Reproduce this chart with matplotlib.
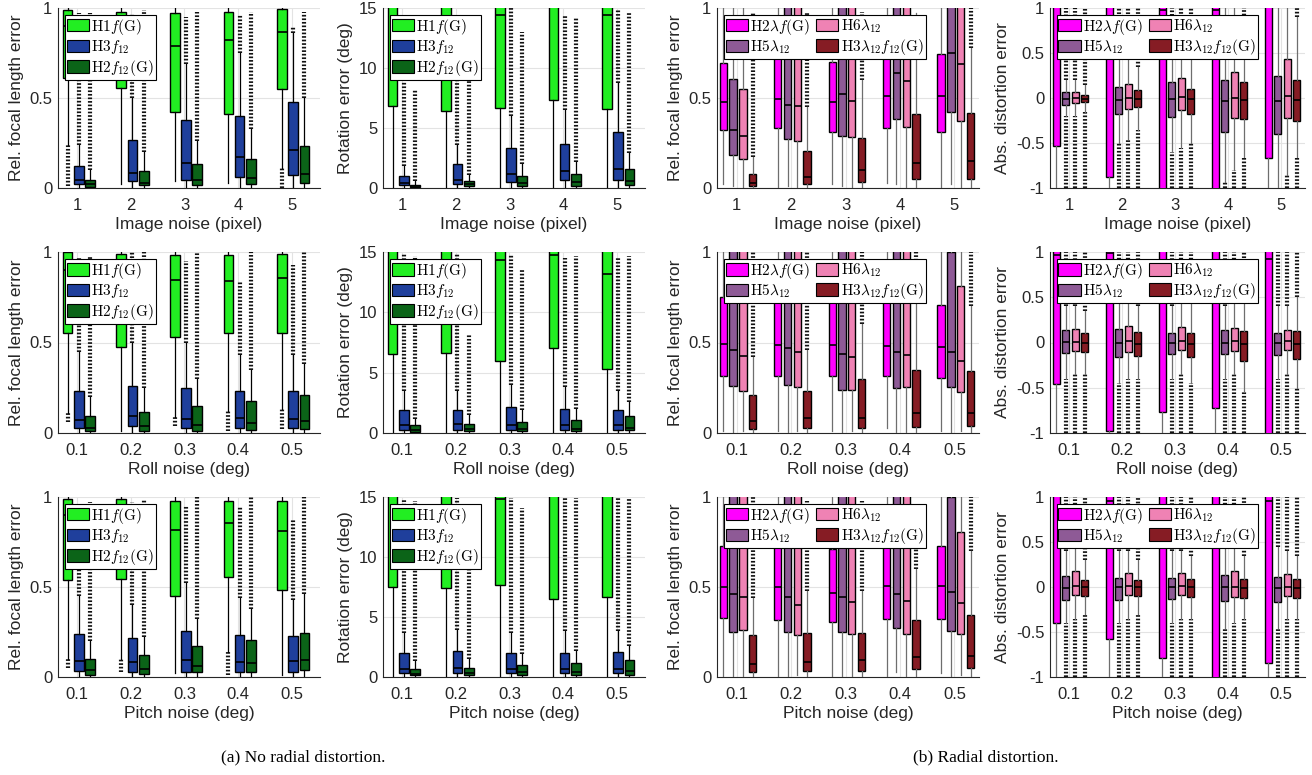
import matplotlib.pyplot as plt
from matplotlib.patches import Patch

plt.rcParams['font.family'] = ['Liberation Sans', 'DejaVu Sans']
plt.rcParams['mathtext.fontset'] = 'cm'

# box stats per group: (whisker low, q1, median, q3, whisker high, outliers bottom, outliers top)
groups = [1, 2, 3, 4, 5]
img_ticks = ['1', '2', '3', '4', '5']
deg_ticks = ['0.1', '0.2', '0.3', '0.4', '0.5']

# ---- image noise ----
img_f_H1 = [(0.24, 0.61, 0.9, 0.99, 1.0, 0.01, None), (0.02, 0.555, 0.85, 0.976, 1.0),
            (0.04, 0.42, 0.79, 0.97, 1.0), (0.03, 0.41, 0.82, 0.976, 1.0),
            (0.11, 0.55, 0.865, 0.995, 1.0, 0.0, None)]
img_f_H3 = [(0, 0.02, 0.046, 0.124, 0.24, None, 0.97), (0, 0.037, 0.083, 0.265, 0.5, None, 0.97),
            (0, 0.046, 0.139, 0.376, 0.69, None, 0.95), (0, 0.061, 0.172, 0.40, 0.75, None, 0.96),
            (0, 0.074, 0.21, 0.476, 0.86, None, 0.9)]
img_f_H2 = [(0, 0.004, 0.022, 0.046, 0.1, None, 0.97), (0, 0.015, 0.03, 0.093, 0.2, None, 0.99),
            (0, 0.015, 0.046, 0.133, 0.26, None, 0.98), (0, 0.02, 0.056, 0.16, 0.33, None, 0.98),
            (0, 0.028, 0.08, 0.235, 0.5, None, 0.98)]
img_rot_H1 = [(0, 6.8, 16, 20, 20), (0, 6.4, 16, 20, 20), (0, 6.67, 14.4, 20, 20),
              (0, 7.36, 16, 20, 20), (0, 6.58, 14.44, 20, 20)]
img_rot_H3 = [(0, 0.28, 0.42, 0.97, 1.8, None, 12), (0, 0.36, 0.7, 2.0, 3.6, None, 13),
              (0, 0.5, 1.2, 3.33, 6.0, None, 15), (0, 0.64, 1.39, 3.7, 6.5, None, 14.4),
              (0, 0.7, 1.58, 4.7, 8.75, None, 14.9)]
img_rot_H2 = [(0, 0.05, 0.14, 0.28, 0.6, None, 8.2), (0, 0.14, 0.33, 0.55, 1.1, None, 8.9),
              (0, 0.2, 0.42, 0.97, 2.0, None, 13), (0, 0.14, 0.5, 1.17, 2.2, None, 14.2),
              (0, 0.22, 0.61, 1.58, 2.9, None, 14.7)]
img_fd_H2l = [(0.02, 0.32, 0.48, 0.694, 1.0), (0.0, 0.333, 0.496, 0.72, 1.0), (0.02, 0.31, 0.476, 0.70, 1.0),
              (0.03, 0.333, 0.51, 0.744, 1.0), (0.0, 0.31, 0.513, 0.744, 1.0)]
img_fd_H5 = [(0.01, 0.185, 0.32, 0.607, 1.0), (0.01, 0.27, 0.46, 1.2, 1.2), (0.01, 0.29, 0.52, 1.2, 1.2),
             (0.02, 0.385, 0.64, 1.2, 1.2), (0.02, 0.42, 0.75, 1.2, 1.2)]
img_fd_H6 = [(0.0, 0.16, 0.287, 0.55, 1.0), (0.0, 0.26, 0.454, 1.2, 1.2), (0.0, 0.283, 0.485, 1.2, 1.2),
             (0.0, 0.337, 0.593, 1.2, 1.2), (0.0, 0.374, 0.69, 1.2, 1.2)]
img_fd_H3l = [(0, 0.01, 0.03, 0.08, 0.17, None, 0.98), (0, 0.022, 0.061, 0.207, 0.45, None, 0.98),
              (0, 0.033, 0.098, 0.278, 0.6, None, 0.98), (0, 0.052, 0.139, 0.41, 0.97),
              (0, 0.052, 0.148, 0.417, 0.78, None, 1.0)]
img_dist_H2l = [(-1, -0.53, 1.1, 1.3, 1.3), (-1, -0.88, 1.1, 1.3, 1.3), (-1.2, -1.2, 0.98, 1.3, 1.3),
                (-1.2, -1.2, 0.98, 1.3, 1.3), (-1, -0.67, 1.1, 1.3, 1.3)]
img_dist_H5 = [(-0.2, -0.074, -0.007, 0.063, 0.2, -1, 1), (-0.5, -0.178, -0.019, 0.12, 0.5, -1, 1),
               (-0.6, -0.21, -0.007, 0.178, 0.6, -1, 1), (-0.93, -0.378, -0.037, 0.196, 1.0, -1, None),
               (-1, -0.396, -0.037, 0.24, 1.0)]
img_dist_H6 = [(-0.2, -0.055, 0.0, 0.063, 0.2, -1, 1), (-0.45, -0.12, 0.0, 0.155, 0.5, -1, 1),
               (-0.55, -0.13, 0.015, 0.222, 0.7, -1, 1), (-0.8, -0.22, 0.0, 0.29, 1.0, -1, None),
               (-0.85, -0.22, 0.018, 0.43, 1.0, -1, None)]
img_dist_H3l = [(-0.15, -0.044, -0.007, 0.037, 0.15, -1, 1), (-0.35, -0.1, -0.007, 0.085, 0.35, -1, 1),
                (-0.5, -0.178, -0.011, 0.1, 0.5, -1, 1), (-0.65, -0.233, -0.019, 0.178, 0.8, -1, 1),
                (-0.65, -0.26, -0.026, 0.196, 0.9, -1, 1)]

# ---- roll noise ----
roll_f_H1 = [(0.11, 0.554, 0.9, 1.0, 1.0, 0.06, None), (0.01, 0.476, 0.85, 0.99, 1.0),
             (0.09, 0.53, 0.848, 0.985, 1.0, 0.04, None), (0.12, 0.554, 0.838, 0.985, 1.0, 0.01, None),
             (0.13, 0.554, 0.855, 0.987, 1.0, 0.02, None)]
roll_f_H3 = [(0, 0.028, 0.074, 0.23, 0.45, None, 0.97), (0, 0.037, 0.095, 0.26, 0.5, None, 1.0),
             (0, 0.03, 0.08, 0.247, 0.5, None, 0.95), (0, 0.03, 0.084, 0.232, 0.43, None, 0.84),
             (0, 0.03, 0.076, 0.232, 0.43, None, 0.93)]
roll_f_H2 = [(0, 0.009, 0.028, 0.093, 0.2, None, 0.98), (0, 0.013, 0.039, 0.117, 0.25, None, 1.0),
             (0, 0.013, 0.046, 0.149, 0.3, None, 1.0), (0, 0.019, 0.056, 0.177, 0.35, None, 1.0),
             (0, 0.02, 0.067, 0.21, 0.38, None, 1.0)]
roll_rot_H1 = [(0, 6.53, 16, 20, 20), (0, 6.6, 16, 20, 20), (0, 5.97, 14.3, 20, 20),
               (0, 7.08, 14.75, 20, 20), (0, 5.3, 13.2, 20, 20)]
roll_rot_H3 = [(0, 0.28, 0.7, 1.94, 3.5, None, 14.8), (0, 0.28, 0.78, 1.94, 3.5, None, 14.8),
               (0, 0.28, 0.64, 2.17, 4.0, None, 14.8), (0, 0.28, 0.64, 2.03, 3.8, None, 14.5),
               (0, 0.28, 0.7, 1.94, 3.5, None, 14.6)]
roll_rot_H2 = [(0, 0.08, 0.22, 0.7, 1.2, None, 14.7), (0, 0.14, 0.36, 0.78, 1.5, None, 8.2),
               (0, 0.14, 0.36, 0.92, 1.9, None, 13.6), (0, 0.14, 0.36, 1.06, 2.0, None, 14.7),
               (0, 0.22, 0.44, 1.39, 2.6, None, 14.7)]
roll_fd_H2l = [(0.01, 0.317, 0.49, 0.75, 1.0), (0.01, 0.317, 0.487, 0.728, 1.0), (0.01, 0.315, 0.485, 0.724, 1.0),
               (0.03, 0.315, 0.48, 0.74, 1.0), (0.01, 0.305, 0.474, 0.705, 1.0)]
roll_fd_H5 = [(0, 0.26, 0.456, 1.2, 1.2), (0, 0.265, 0.468, 1.2, 1.2), (0, 0.24, 0.435, 1.2, 1.2),
              (0, 0.25, 0.446, 1.2, 1.2), (0, 0.253, 0.45, 1.0, 1.2)]
roll_fd_H6 = [(0.01, 0.232, 0.427, 1.2, 1.2), (0.01, 0.253, 0.45, 1.2, 1.2), (0.01, 0.24, 0.42, 1.2, 1.2),
              (0, 0.253, 0.433, 1.2, 1.2), (0.01, 0.228, 0.4, 0.814, 1.2)]
roll_fd_H3l = [(0, 0.024, 0.067, 0.21, 0.42, None, 1.0), (0, 0.028, 0.084, 0.234, 0.46, None, 1.0),
               (0, 0.028, 0.084, 0.3, 0.6, None, 1.0), (0, 0.033, 0.108, 0.346, 0.72, None, 1.0),
               (0, 0.037, 0.11, 0.34, 0.7, None, 1.0)]
roll_dist_H2l = [(-1.2, -0.46, 0.967, 1.3, 1.3), (-1.2, -0.98, 0.99, 1.3, 1.3), (-1.2, -0.77, 1.1, 1.3, 1.3),
                 (-1.2, -0.72, 1.1, 1.3, 1.3), (-1.2, -1.2, 0.92, 1.3, 1.3)]
roll_dist_H5 = [(-0.4, -0.12, 0.004, 0.133, 0.4, -1, 1), (-0.45, -0.156, 0.0, 0.148, 0.45, -1, 1),
                (-0.4, -0.126, 0.0, 0.11, 0.4, -1, 1), (-0.4, -0.126, 0.0, 0.133, 0.4, -1, 1),
                (-0.4, -0.137, 0.0, 0.11, 0.4, -1, 1)]
roll_dist_H6 = [(-0.35, -0.093, 0.011, 0.148, 0.4, -1, 1), (-0.4, -0.107, 0.018, 0.178, 0.45, -1, 1),
                (-0.35, -0.08, 0.022, 0.17, 0.45, -1, 1), (-0.35, -0.093, 0.018, 0.16, 0.45, -1, 1),
                (-0.35, -0.08, 0.018, 0.14, 0.4, -1, 1)]
roll_dist_H3l = [(-0.35, -0.11, 0.0, 0.104, 0.35, -1, 1), (-0.4, -0.144, -0.015, 0.115, 0.4, -1, 1),
                 (-0.45, -0.163, -0.015, 0.104, 0.45, -1, 1), (-0.55, -0.2, -0.015, 0.13, 0.5, -1, 1),
                 (-0.5, -0.18, -0.015, 0.122, 0.5, -1, 1)]

# ---- pitch noise ----
pitch_f_H1 = [(0.1, 0.54, 0.9, 0.99, 1.0, 0.05, None), (0.1, 0.542, 0.88, 0.99, 1.0, 0.03, None),
              (0.02, 0.452, 0.815, 0.978, 1.0), (0.14, 0.553, 0.856, 0.978, 1.0, 0.01, None),
              (0.01, 0.483, 0.81, 0.98, 1.0)]
pitch_f_H3 = [(0, 0.035, 0.087, 0.24, 0.45, None, 0.95), (0, 0.028, 0.081, 0.216, 0.4, None, 0.97),
              (0, 0.03, 0.092, 0.258, 0.52, None, 0.95), (0, 0.028, 0.083, 0.234, 0.44, None, 0.95),
              (0, 0.03, 0.087, 0.23, 0.43, None, 0.87)]
pitch_f_H2 = [(0, 0.009, 0.037, 0.1, 0.2, None, 0.97), (0, 0.017, 0.044, 0.12, 0.22, None, 0.99),
              (0, 0.026, 0.059, 0.173, 0.32, None, 1.0), (0, 0.026, 0.077, 0.207, 0.38, None, 1.0),
              (0, 0.04, 0.092, 0.247, 0.46, None, 1.0)]
pitch_rot_H1 = [(0, 7.53, 16, 20, 20), (0, 7.45, 16, 20, 20), (0, 7.67, 14.8, 20, 20),
                (0, 6.5, 16, 20, 20), (0, 6.65, 16, 20, 20)]
pitch_rot_H3 = [(0, 0.33, 0.69, 2.0, 3.7, None, 14.8), (0, 0.33, 0.75, 2.13, 3.9, None, 14.9),
                (0, 0.33, 0.69, 2.0, 3.7, None, 14.9), (0, 0.33, 0.69, 2.0, 3.8, None, 14.9),
                (0, 0.33, 0.69, 2.08, 3.8, None, 14.9)]
pitch_rot_H2 = [(0, 0.14, 0.28, 0.69, 1.3, None, 14.7), (0, 0.14, 0.33, 0.75, 1.5, None, 9.0),
                (0, 0.14, 0.39, 1.0, 1.9, None, 14.1), (0, 0.14, 0.42, 1.2, 2.2, None, 14.9),
                (0, 0.19, 0.47, 1.44, 2.6, None, 14.8)]
pitch_fd_H2l = [(0.0, 0.33, 0.498, 0.729, 1.0), (0.0, 0.317, 0.498, 0.729, 1.0), (0.0, 0.308, 0.469, 0.71, 1.0),
                (0.0, 0.321, 0.506, 0.75, 1.0), (0.02, 0.323, 0.507, 0.729, 1.0)]
pitch_fd_H5 = [(0, 0.25, 0.46, 1.2, 1.2), (0, 0.25, 0.446, 1.2, 1.2), (0, 0.25, 0.446, 1.2, 1.2),
               (0.03, 0.275, 0.461, 1.2, 1.2), (0, 0.258, 0.47, 1.0, 1.2)]
pitch_fd_H6 = [(0, 0.262, 0.446, 1.2, 1.2), (0.01, 0.234, 0.4, 1.2, 1.2), (0, 0.238, 0.415, 1.2, 1.2),
               (0, 0.24, 0.424, 1.2, 1.2), (0.01, 0.238, 0.41, 0.806, 1.2)]
pitch_fd_H3l = [(0, 0.028, 0.074, 0.234, 0.44, None, 1.0), (0, 0.031, 0.083, 0.247, 0.48, None, 0.98),
                (0, 0.035, 0.092, 0.247, 0.48, None, 0.98), (0, 0.044, 0.109, 0.314, 0.6, None, 0.95),
                (0, 0.05, 0.118, 0.345, 0.7, None, 1.0)]
pitch_dist_H2l = [(-1.2, -0.4, 1.1, 1.3, 1.3), (-1.2, -0.58, 0.96, 1.3, 1.3), (-1.2, -0.79, 1.1, 1.3, 1.3),
                  (-1.2, -1.2, 1.1, 1.3, 1.3), (-1.2, -0.845, 0.955, 1.3, 1.3)]
pitch_dist_H5 = [(-0.4, -0.144, -0.007, 0.125, 0.4, -1, 1), (-0.4, -0.14, -0.004, 0.103, 0.4, -1, 1),
                 (-0.4, -0.13, -0.004, 0.103, 0.4, -1, 1), (-0.45, -0.15, -0.004, 0.133, 0.45, -1, 1),
                 (-0.45, -0.17, -0.015, 0.114, 0.45, -1, 1)]
pitch_dist_H6 = [(-0.35, -0.089, 0.011, 0.177, 0.45, -1, 1), (-0.35, -0.089, 0.011, 0.151, 0.4, -1, 1),
                 (-0.35, -0.089, 0.011, 0.151, 0.4, -1, 1), (-0.4, -0.11, 0.004, 0.177, 0.45, -1, 1),
                 (-0.35, -0.1, 0.004, 0.14, 0.4, -1, 1)]
pitch_dist_H3l = [(-0.3, -0.096, -0.004, 0.077, 0.3, -1, 1), (-0.3, -0.1, -0.004, 0.077, 0.3, -1, 1),
                  (-0.35, -0.11, -0.004, 0.088, 0.35, -1, 1), (-0.35, -0.125, -0.007, 0.088, 0.35, -1, 1),
                  (-0.35, -0.118, -0.007, 0.088, 0.35, -1, 1)]

left_colors = ['#22ee22', '#1f3f9c', '#0b6418']
left_labels = [r'$\mathrm{H1}f(\mathrm{G})$', r'$\mathrm{H3}f_{12}$', r'$\mathrm{H2}f_{12}(\mathrm{G})$']
right_colors = ['#ff00ff', '#8e5a96', '#ef82b4', '#861c24']
right_labels = [r'$\mathrm{H2}\lambda f(\mathrm{G})$', r'$\mathrm{H5}\lambda_{12}$',
                r'$\mathrm{H6}\lambda_{12}$', r'$\mathrm{H3}\lambda_{12}f_{12}(\mathrm{G})$']

rows = [
    ('Image noise (pixel)', img_ticks,
     [img_f_H1, img_f_H3, img_f_H2], [img_rot_H1, img_rot_H3, img_rot_H2],
     [img_fd_H2l, img_fd_H5, img_fd_H6, img_fd_H3l], [img_dist_H2l, img_dist_H5, img_dist_H6, img_dist_H3l]),
    ('Roll noise (deg)', deg_ticks,
     [roll_f_H1, roll_f_H3, roll_f_H2], [roll_rot_H1, roll_rot_H3, roll_rot_H2],
     [roll_fd_H2l, roll_fd_H5, roll_fd_H6, roll_fd_H3l], [roll_dist_H2l, roll_dist_H5, roll_dist_H6, roll_dist_H3l]),
    ('Pitch noise (deg)', deg_ticks,
     [pitch_f_H1, pitch_f_H3, pitch_f_H2], [pitch_rot_H1, pitch_rot_H3, pitch_rot_H2],
     [pitch_fd_H2l, pitch_fd_H5, pitch_fd_H6, pitch_fd_H3l], [pitch_dist_H2l, pitch_dist_H5, pitch_dist_H6, pitch_dist_H3l]),
]

W, H = 1312, 775
fig = plt.figure(figsize=(W / 100, H / 100), dpi=100)

col_px = [(58, 320), (383, 645), (717, 979), (1050, 1305)]
row_px = [(8, 188), (252, 433), (497, 677)]
ylabels = ['Rel. focal length error', 'Rotation error (deg)', 'Rel. focal length error', 'Abs. distortion error']
ylims = [(0, 1), (0, 15), (0, 1), (-1, 1)]
yticks = [([0, 0.5, 1], ['0', '0.5', '1']), ([0, 5, 10, 15], ['0', '5', '10', '15']),
          ([0, 0.5, 1], ['0', '0.5', '1']), ([-1, -0.5, 0, 0.5, 1], ['-1', '-0.5', '0', '0.5', '1'])]
axc = '#262626'
# outliers are dense columns of "+" markers: drawn as a heavy dotted column
out_style = dict(colors='#111111', linewidth=3.0, linestyles=(0, (0.4, 0.45)), zorder=2)


def draw_panel(ax, series, colors, offsets, width, wcolor):
    for boxes, color, off in zip(series, colors, offsets):
        stats, pos = [], []
        for g, b in zip(groups, boxes):
            wlo, q1, med, q3, whi, olo, ohi = tuple(b) + (None,) * (7 - len(b))
            p = g + off
            stats.append(dict(whislo=wlo, q1=q1, med=med, q3=q3, whishi=whi, fliers=[]))
            pos.append(p)
            if ohi is not None:
                ax.vlines(p, whi, ohi, **out_style)
            if olo is not None:
                ax.vlines(p, olo, wlo, **out_style)
        ax.bxp(stats, positions=pos, widths=width, patch_artist=True, showfliers=False, showcaps=False,
               boxprops=dict(facecolor=color, edgecolor='k', linewidth=1.0),
               medianprops=dict(color='k', linewidth=1.2),
               whiskerprops=dict(color=wcolor, linewidth=0.9), zorder=3)


leg_kw = dict(loc='upper left', bbox_to_anchor=(0.026, 0.962), fontsize=11, handlelength=1.45,
              handleheight=0.85, handletextpad=0.15, labelspacing=0.1, borderpad=0.12,
              borderaxespad=0, columnspacing=0.4, fancybox=False, framealpha=1, edgecolor='k')

for r, (xlab, xt, s0, s1, s2, s3) in enumerate(rows):
    for c, series in enumerate([s0, s1, s2, s3]):
        l, rgt = col_px[c]
        t, b = row_px[r]
        ax = fig.add_axes([l / W, 1 - b / H, (rgt - l) / W, (b - t) / H])
        if c < 2:
            draw_panel(ax, series, left_colors, [-0.18, 0.03, 0.24], 0.18, 'k')
            ax.set_xlim(0.64, 5.53)
            handles = [Patch(facecolor=col, edgecolor='k', linewidth=0.8) for col in left_colors]
            leg = ax.legend(handles, left_labels, ncol=1, **leg_kw)
        else:
            draw_panel(ax, series, right_colors, [-0.245, -0.065, 0.115, 0.295], 0.135, '#6e6e6e')
            ax.set_xlim(0.64, 5.45)
            handles = [Patch(facecolor=col, edgecolor='k', linewidth=0.8) for col in right_colors]
            leg = ax.legend(handles, right_labels, ncol=2, **leg_kw)
        leg.get_frame().set_linewidth(0.8)
        leg.set_zorder(10)
        ax.set_ylim(*ylims[c])
        ax.set_yticks(yticks[c][0])
        ax.set_yticklabels(yticks[c][1])
        ax.set_xticks(groups)
        ax.set_xticklabels(xt)
        ax.grid(True, color='#e3e3e3', linewidth=0.8)
        ax.set_axisbelow(True)
        for sp in ['top', 'right']:
            ax.spines[sp].set_visible(False)
        for sp in ['left', 'bottom']:
            ax.spines[sp].set_color(axc)
            ax.spines[sp].set_linewidth(0.8)
        ax.tick_params(axis='both', labelsize=12, colors=axc, direction='in', length=0, pad=4)
        ax.tick_params(axis='x', pad=7)
        ax.set_ylabel(ylabels[c], fontsize=12.5, color=axc, labelpad=4)
        ax.set_xlabel(xlab, fontsize=12.5, color=axc, labelpad=3)

fig.text(303 / W, 1 - 757 / H, '(a) No radial distortion.', ha='center', va='center',
         fontsize=12.5, family=['Liberation Serif', 'DejaVu Serif'])
fig.text(986 / W, 1 - 757 / H, '(b) Radial distortion.', ha='center', va='center',
         fontsize=12.5, family=['Liberation Serif', 'DejaVu Serif'])

fig.savefig('out.png', dpi=100)
